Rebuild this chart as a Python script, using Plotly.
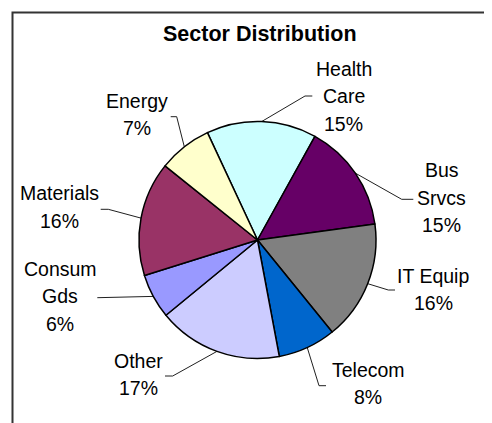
import math
import plotly.graph_objects as go

# ---- data ----
sectors = ["Health Care", "Bus Srvcs", "IT Equip", "Telecom", "Other", "Consum Gds", "Materials", "Energy"]
shares = [15.0, 14.8, 16.3, 7.9, 17.0, 6.1, 15.6, 7.3]
label_lines = [["Health", "Care"], ["Bus", "Srvcs"], ["IT Equip"], ["Telecom"], ["Other"],
               ["Consum", "Gds"], ["Materials"], ["Energy"]]
colors = ["#CCFFFF", "#660066", "#808080", "#0066CC", "#CCCCFF", "#9999FF", "#993366", "#FFFFCC"]

# ---- layout (page pixels; the page body has an 8px margin) ----
W, H = 492, 423
OFF = 8
FW, FH = W - OFF, H - OFF
CX, CY, R = 257.5, 240.0, 118.5
ROTATION = -25.0
FONT = "Liberation Sans, Arial, sans-serif"
FS = 19.5
LINE_H = 27.5
# label block centre x, first line centre y
label_pos = [(343.5, 68.5), (441.5, 170), (433, 275.5), (368, 369.5), (138, 360.5),
             (60, 268.5), (59.5, 193), (137, 100.5)]
# leader line end near label, and elbow x
leader_end = [(312.3, 96), (413.3, 199.3), (395, 290), (326, 385.7), (165, 376),
              (97.3, 297.7), (100.7, 209.3), (170.7, 116.7)]
leader_elbow_x = [305, 401.7, 388.3, 319, 172.7, 97.3, 108.3, 176.7]

total = sum(shares)
fig = go.Figure()

# domain of pie such that centre/radius land at CX, CY, R on the page
x0 = (CX - R - OFF) / FW
x1 = (CX + R - OFF) / FW
y0 = 1 - (CY + R - OFF) / FH
y1 = y0 + 2 * R / FH
fig.add_trace(go.Pie(
    labels=sectors, values=shares, sort=False, direction="clockwise", rotation=ROTATION,
    marker=dict(colors=colors, line=dict(color="black", width=1.5)),
    textinfo="none", hoverinfo="label+percent", showlegend=False,
    domain=dict(x=[x0, x1], y=[y0, y1]),
))

annotations = []
cum = 0.0
for i, (name, v) in enumerate(zip(sectors, shares)):
    mid = math.radians(ROTATION + 360.0 * (cum + v / 2) / total)
    cum += v
    ex, ey = CX + R * math.sin(mid), CY - R * math.cos(mid)
    lx, ly = leader_end[i]
    bx = leader_elbow_x[i]
    fig.add_trace(go.Scatter(x=[ex, bx, lx], y=[ey, ly, ly], mode="lines",
                             line=dict(color="#202020", width=1), hoverinfo="skip",
                             showlegend=False, xaxis="x", yaxis="y"))
    pct = f"{round(100 * v / total):.0f}%"
    lines = label_lines[i] + [pct]
    tx, ty = label_pos[i]
    for j, t in enumerate(lines):
        annotations.append(dict(x=tx, y=ty + j * LINE_H, xref="x", yref="y", text=t,
                                showarrow=False, xanchor="center", yanchor="middle",
                                font=dict(family=FONT, size=FS, color="black")))

annotations.append(dict(x=259.5, y=34, xref="x", yref="y", text="<b>Sector Distribution</b>",
                        showarrow=False, xanchor="center", yanchor="middle",
                        font=dict(family=FONT, size=21.5, color="black")))

fig.update_layout(
    width=FW, height=FH, margin=dict(l=0, r=0, t=0, b=0),
    paper_bgcolor="white", plot_bgcolor="rgba(0,0,0,0)",
    xaxis=dict(range=[OFF, W], visible=False, fixedrange=True),
    yaxis=dict(range=[H, OFF], visible=False, fixedrange=True),
    annotations=annotations,
    shapes=[dict(type="rect", xref="x", yref="y", x0=12.5, y0=12.5, x1=W + 20, y1=H + 20,
                 line=dict(color="#333333", width=2), fillcolor="rgba(0,0,0,0)")],
)

fig.write_html("out.html")
